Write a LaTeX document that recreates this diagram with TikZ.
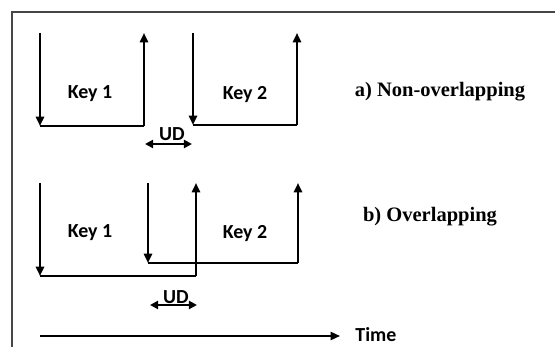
\documentclass[tikz,border=0pt]{standalone}
\usepackage{fontspec}
\setmainfont{Liberation Serif}
\newfontfamily\carlito{Carlito}
\usetikzlibrary{arrows.meta,positioning}
\definecolor{FrameGray}{RGB}{70,70,70}
\tikzset{
  sig/.style={-{Triangle[length=8pt,width=7pt]},line width=1.8pt},
  base/.style={line width=1.8pt},
  span/.style={{Triangle[length=7pt,width=7pt]}-{Triangle[length=7pt,width=7pt]},line width=1.8pt},
  keylbl/.style={font=\carlito\bfseries\fontsize{17}{20}\selectfont,inner sep=1pt},
  caselbl/.style={font=\bfseries\fontsize{17.5}{20}\selectfont,inner sep=1pt},
}

\begin{document}
\begin{tikzpicture}[x=0.03cm, y=-0.03cm]
    \useasboundingbox (0,0) rectangle (555,347);
    % frame
    \draw[FrameGray, line width=0.9pt] (12,347) -- (12,12) -- (555,12);

    % a) non-overlapping
    \coordinate (na1) at (40,33);  \coordinate (nb1) at (40,126);
    \coordinate (nc1) at (144,126); \coordinate (nd1) at (144,33);
    \coordinate (na2) at (193,33); \coordinate (nb2) at (193,125);
    \coordinate (nc2) at (297,125); \coordinate (nd2) at (297,33);
    \draw[sig] (na1) -- (nb1);
    \draw[base] (nb1) -- (nc1);
    \draw[sig] (nc1) -- (nd1);
    \draw[sig] (na2) -- (nb2);
    \draw[base] (nb2) -- (nc2);
    \draw[sig] (nc2) -- (nd2);
    \node[keylbl] (nkey1) at (90,94) {Key 1};
    \node[keylbl] (nkey2) at (245,95) {Key 2};
    \coordinate (nuL) at (145,144); \coordinate (nuR) at (192,144);
    \draw[span] (nuL) -- (nuR);
    \node[keylbl] (nud) at (172,134) {UD};
    \node[caselbl] (ncase) at (440,92) {a) Non-overlapping};

    % b) overlapping
    \coordinate (oa1) at (40,183);  \coordinate (ob1) at (40,276);
    \coordinate (oc1) at (196,276); \coordinate (od1) at (196,183);
    \coordinate (oa2) at (148,183); \coordinate (ob2) at (148,263);
    \coordinate (oc2) at (298,263); \coordinate (od2) at (298,183);
    \draw[sig] (oa1) -- (ob1);
    \draw[base] (ob1) -- (oc1);
    \draw[sig] (oc1) -- (od1);
    \draw[sig] (oa2) -- (ob2);
    \draw[base] (ob2) -- (oc2);
    \draw[sig] (oc2) -- (od2);
    \node[keylbl] (okey1) at (90,233) {Key 1};
    \node[keylbl] (okey2) at (245,234) {Key 2};
    \coordinate (ouL) at (150,305); \coordinate (ouR) at (197,305);
    \draw[span] (ouL) -- (ouR);
    \node[keylbl] (oud) at (176,297) {UD};
    \node[caselbl] (ocase) at (430,217) {b) Overlapping};

    % time axis
    \coordinate (t0) at (40,336); \coordinate (t1) at (340,336);
    \draw[sig, line width=1.6pt] (t0) -- (t1);
    \node[keylbl, right=12pt of t1, anchor=west, yshift=1pt] (time) {Time};
\end{tikzpicture}
\end{document}
